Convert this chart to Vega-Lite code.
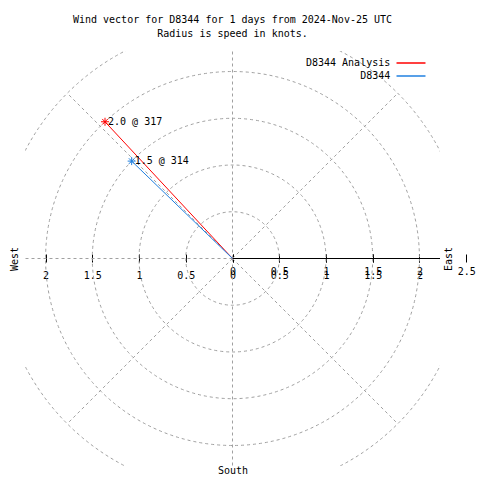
{
  "$schema": "https://vega.github.io/schema/vega-lite/v6.json",
  "width": 415,
  "height": 415,
  "autosize": "none",
  "padding": {"left": 25, "top": 51, "right": 40, "bottom": 14},
  "background": "white",
  "config": {"view": {"stroke": null}, "font": "DejaVu Sans Mono"},
  "title": {
    "text": ["Wind vector for D8344 for 1 days from 2024-Nov-25 UTC", "Radius is speed in knots."],
    "font": "DejaVu Sans Mono", "fontSize": 10, "fontWeight": "normal", "color": "black",
    "anchor": "middle", "lineHeight": 14, "offset": 12
  },
  "datasets": {
    "rings": [
      {"cx": 0, "cy": 0, "r": 0.5}, {"cx": 0, "cy": 0, "r": 1}, {"cx": 0, "cy": 0, "r": 1.5},
      {"cx": 0, "cy": 0, "r": 2}, {"cx": 0, "cy": 0, "r": 2.5}
    ],
    "spokes": [
      {"x1": 0, "y1": 0, "x2": 0, "y2": 2.5},
      {"x1": 0, "y1": 0, "x2": 1.7678, "y2": 1.7678},
      {"x1": 0, "y1": 0, "x2": 2.5, "y2": 0},
      {"x1": 0, "y1": 0, "x2": 1.7678, "y2": -1.7678},
      {"x1": 0, "y1": 0, "x2": 0, "y2": -2.5},
      {"x1": 0, "y1": 0, "x2": -1.7678, "y2": -1.7678},
      {"x1": 0, "y1": 0, "x2": -2.5, "y2": 0},
      {"x1": 0, "y1": 0, "x2": -1.7678, "y2": 1.7678}
    ],
    "raxis": [{"x1": 0, "x2": 2.5, "y1": 0}],
    "vectors": [
      {"series": "D8344 Analysis", "ord": 0, "x": 0, "y": 0},
      {"series": "D8344 Analysis", "ord": 1, "x": -1.364, "y": 1.463},
      {"series": "D8344", "ord": 0, "x": 0, "y": 0},
      {"series": "D8344", "ord": 1, "x": -1.079, "y": 1.042}
    ],
    "tips": [
      {"series": "D8344 Analysis", "x": -1.364, "y": 1.463, "label": "2.0 @ 317"},
      {"series": "D8344", "x": -1.079, "y": 1.042, "label": "1.5 @ 314"}
    ]
  },
  "layer": [
    {
      "data": {"name": "rings"},
      "mark": {"type": "point", "shape": "circle", "filled": false, "color": "#a0a0a0", "strokeWidth": 1, "strokeDash": [3, 3], "opacity": 1, "clip": true},
      "encoding": {
        "x": {"field": "cx", "type": "quantitative", "scale": {"domain": [-2.22, 2.22], "nice": false, "zero": false}, "axis": null},
        "y": {"field": "cy", "type": "quantitative", "scale": {"domain": [-2.22, 2.22], "nice": false, "zero": false}, "axis": null},
        "size": {"field": "r", "type": "quantitative", "scale": {"type": "pow", "exponent": 2, "domain": [0, 2.5], "range": [0, 218389]}, "legend": null}
      }
    },
    {
      "data": {"name": "spokes"},
      "mark": {"type": "rule", "color": "#a0a0a0", "strokeWidth": 1, "strokeDash": [3, 3], "clip": true},
      "encoding": {
        "x": {"field": "x1", "type": "quantitative", "scale": {"domain": [-2.22, 2.22], "nice": false, "zero": false}, "axis": null},
        "y": {"field": "y1", "type": "quantitative", "axis": null},
        "x2": {"field": "x2"},
        "y2": {"field": "y2"}
      }
    },
    {
      "data": {"name": "raxis"},
      "mark": {"type": "rule", "color": "black", "strokeWidth": 1, "clip": true},
      "encoding": {
        "x": {"field": "x1", "type": "quantitative", "scale": {"domain": [-2.22, 2.22], "nice": false, "zero": false}, "axis": null},
        "x2": {"field": "x2"},
        "y": {"field": "y1", "type": "quantitative", "axis": null}
      }
    },
    {
      "data": {"name": "vectors"},
      "mark": {"type": "line", "strokeWidth": 1},
      "encoding": {
        "x": {"field": "x", "type": "quantitative", "scale": {"domain": [-2.22, 2.22], "nice": false, "zero": false},
          "axis": {"orient": "bottom", "offset": -212, "values": [-2, -1.5, -1, -0.5, 0, 0.5, 1, 1.5, 2], "labelExpr": "'' + abs(datum.value)", "domain": false, "grid": false, "ticks": true, "tickSize": 8, "tickColor": "black", "tickWidth": 1, "labelFont": "DejaVu Sans Mono", "labelFontSize": 10, "labelColor": "black", "labelPadding": 8, "labelFlush": false, "labelOverlap": false, "title": "South", "titleFont": "DejaVu Sans Mono", "titleFontSize": 10, "titleFontWeight": "normal", "titleColor": "black", "titleY": 216, "titleBaseline": "middle"}},
        "y": {"field": "y", "type": "quantitative",
          "axis": {"orient": "left", "domain": false, "ticks": false, "labels": false, "grid": false, "title": "West", "titleFont": "DejaVu Sans Mono", "titleFontSize": 10, "titleFontWeight": "normal", "titleColor": "black", "titlePadding": 6}},
        "stroke": {"field": "series", "type": "nominal", "scale": {"domain": ["D8344 Analysis", "D8344"], "range": ["#ff0000", "#2080e0"]},
          "legend": {"orient": "none", "legendX": 378, "legendY": 4, "title": null, "symbolType": "M-2,0L2,0", "symbolSize": 210, "symbolStrokeWidth": 1.5, "labelAlign": "right", "labelOffset": -28.75, "labelFont": "DejaVu Sans Mono", "labelFontSize": 10, "labelColor": "black", "rowPadding": -2, "padding": 0}},
        "order": {"field": "ord", "type": "quantitative"}
      }
    },
    {
      "data": {"name": "tips"},
      "mark": {"type": "point", "shape": "M-1,0L1,0M0,-1L0,1M-0.7,-0.7L0.7,0.7M-0.7,0.7L0.7,-0.7", "filled": false, "size": 64, "strokeWidth": 1, "opacity": 1},
      "encoding": {
        "x": {"field": "x", "type": "quantitative", "scale": {"domain": [-2.22, 2.6], "range": [0, 450.52], "nice": false, "zero": false},
          "axis": {"orient": "bottom", "offset": -212, "values": [0, 0.5, 1, 1.5, 2, 2.5], "labelExpr": "'' + datum.value", "domain": false, "grid": false, "ticks": true, "tickSize": 8, "tickColor": "black", "tickWidth": 1, "labelFont": "DejaVu Sans Mono", "labelFontSize": 10, "labelColor": "black", "labelPadding": 4, "labelFlush": false, "labelOverlap": false, "title": null}},
        "y": {"field": "y", "type": "quantitative",
          "axis": {"orient": "right", "domain": false, "ticks": false, "labels": false, "grid": false, "title": "East", "titleAngle": 270, "titleFont": "DejaVu Sans Mono", "titleFontSize": 10, "titleFontWeight": "normal", "titleColor": "black", "titlePadding": 13}},
        "color": {"field": "series", "type": "nominal", "scale": {"domain": ["D8344 Analysis", "D8344"], "range": ["#ff0000", "#2080e0"]}, "legend": null}
      }
    },
    {
      "data": {"name": "tips"},
      "mark": {"type": "text", "align": "left", "baseline": "middle", "dx": 3, "font": "DejaVu Sans Mono", "fontSize": 10, "color": "black"},
      "encoding": {
        "x": {"field": "x", "type": "quantitative", "scale": {"domain": [-2.22, 2.22], "nice": false, "zero": false}, "axis": null},
        "y": {"field": "y", "type": "quantitative", "axis": null},
        "text": {"field": "label"}
      }
    }
  ],
  "resolve": {"scale": {"x": "independent"}, "axis": {"x": "independent", "y": "independent"}}
}
